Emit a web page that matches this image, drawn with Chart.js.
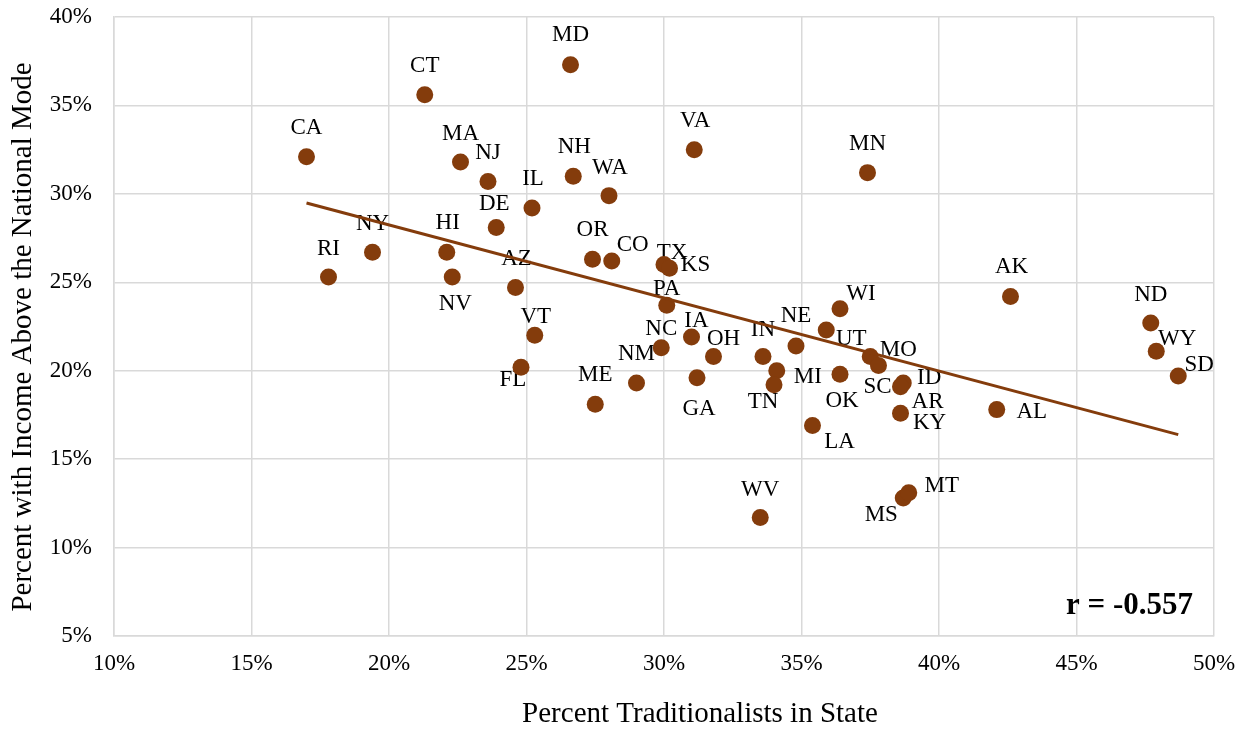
<!DOCTYPE html>
<html>
<head>
<meta charset="utf-8">
<script src="https://cdn.jsdelivr.net/npm/chart.js@4.4.1/dist/chart.umd.min.js"></script>
<style>
  body { margin: 0; background: #fff; }
  canvas { display: block; }
</style>
</head>
<body>
<canvas id="myChart" width="1242" height="732"></canvas>
<script>
const states = ['CA','CT','MD','MA','NJ','NH','WA','VA','IL','DE',
                'NY','HI','RI','NV','AZ','VT','OR','CO','TX','KS',
                'PA','NC','IA','OH','GA','NM','ME','FL','IN','MI',
                'TN','NE','UT','WI','OK','LA','MO','SC','ID','AR',
                'KY','AL','AK','ND','WY','SD','MN','WV','MS','MT'];
// percent traditionalists in state
const traditionalists = [17.0,21.3,26.6,22.6,23.6,26.7,28.0,31.1,25.2,23.9,
                         19.4,22.1,17.8,22.3,24.6,25.3,27.4,28.1,30.0,30.2,
                         30.1,29.9,31.0,31.8,31.2,29.0,27.5,24.8,33.6,34.1,
                         34.0,34.8,35.9,36.4,36.4,35.4,37.5,37.8,38.7,38.6,
                         38.6,42.1,42.6,47.7,47.9,48.7,37.4,33.5,38.7,38.9];
// percent with income above the national mode
const aboveMode = [32.1,35.6,37.3,31.8,30.7,31.0,29.9,32.5,29.2,28.1,
                   26.7,26.7,25.3,25.3,24.7,22.0,26.3,26.2,26.0,25.8,
                   23.7,21.3,21.9,20.8,19.6,19.3,18.1,20.2,20.8,20.0,
                   19.2,21.4,22.3,23.5,19.8,16.9,20.8,20.3,19.3,19.1,
                   17.6,17.8,24.2,22.7,21.1,19.7,31.2,11.7,12.8,13.1];
const xTicks = [10,15,20,25,30,35,40,45,50];
const yTicks = [5,10,15,20,25,30,35,40];
const xTitle = 'Percent Traditionalists in State';
const yTitle = 'Percent with Income Above the National Mode';
const rText = 'r = -0.557';

// where each state label sits relative to its dot (px)
const labelNudge = {
  CA:[0,-31], CT:[0,-31], MD:[0,-32], MA:[0,-30], NJ:[0,-31], NH:[1,-31],
  WA:[1,-30], VA:[1,-31], IL:[1,-31], DE:[-2,-26], NY:[0,-30], HI:[1,-31],
  RI:[0,-30], NV:[3,25], AZ:[1,-31], VT:[1,-20], OR:[0,-31], CO:[21,-18],
  TX:[8,-14], KS:[26,-5], PA:[0,-18], NC:[0,-21], IA:[5,-18], OH:[10,-20],
  GA:[2,29], NM:[0,-31], ME:[0,-31], FL:[-8,11], IN:[0,-29], MI:[31,4],
  TN:[-11,15], NE:[0,-32], UT:[25,7], WI:[21,-17], OK:[2,25], LA:[27,14],
  MO:[28,-9], SC:[-1,20], ID:[26,-7], AR:[27,13], KY:[29,8], AL:[35,0],
  AK:[1,-31], ND:[0,-30], WY:[21,-14], SD:[21,-13], MN:[0,-31], WV:[0,-30],
  MS:[-22,15], MT:[33,-9]
};

const brown = '#843c0c';
const serif = "'Liberation Serif', 'Times New Roman', serif";

const points = states.map((s, i) => ({ x: traditionalists[i], y: aboveMode[i] }));

// least squares trend line
const n = points.length;
const mx = traditionalists.reduce((a, b) => a + b, 0) / n;
const my = aboveMode.reduce((a, b) => a + b, 0) / n;
let sxy = 0, sxx = 0;
for (let i = 0; i < n; i++) {
  sxy += (traditionalists[i] - mx) * (aboveMode[i] - my);
  sxx += (traditionalists[i] - mx) ** 2;
}
const slope = sxy / sxx;
const icpt = my - slope * mx;
const xLo = Math.min(...traditionalists), xHi = Math.max(...traditionalists);
const trend = [{ x: xLo, y: icpt + slope * xLo }, { x: xHi, y: icpt + slope * xHi }];

const stateLabels = {
  id: 'stateLabels',
  beforeDatasetsDraw(chart) {
    const { ctx } = chart;
    const meta = chart.getDatasetMeta(1);
    ctx.save();
    ctx.font = '23px ' + serif;
    ctx.fillStyle = '#000';
    ctx.textAlign = 'center';
    ctx.textBaseline = 'middle';
    meta.data.forEach((el, i) => {
      const off = labelNudge[states[i]] || [0, -30];
      ctx.fillText(states[i], el.x + off[0], el.y + off[1] + 2);
    });
    ctx.restore();
  },
  afterDraw(chart) {
    const { ctx, chartArea } = chart;
    ctx.save();
    ctx.fillStyle = '#000';
    // r value box
    ctx.font = 'bold 31px ' + serif;
    ctx.textAlign = 'right';
    ctx.textBaseline = 'middle';
    ctx.fillText(rText, chartArea.right - 21, chartArea.bottom - 30);
    // axis titles, placed like the original (not centred on the plot)
    ctx.font = '29px ' + serif;
    ctx.textAlign = 'center';
    ctx.fillText(xTitle, 700, 714);
    ctx.translate(23, 337);
    ctx.rotate(-Math.PI / 2);
    ctx.fillText(yTitle, 0, 0);
    ctx.restore();
  }
};

new Chart(document.getElementById('myChart'), {
  type: 'scatter',
  data: {
    datasets: [{
      type: 'line',
      data: trend,
      borderColor: brown,
      borderWidth: 3,
      pointRadius: 0,
      fill: false,
      order: 0
    }, {
      data: points,
      backgroundColor: brown,
      borderColor: brown,
      pointRadius: 8.5,
      pointBorderWidth: 0,
      order: 1
    }]
  },
  options: {
    responsive: false,
    animation: false,
    layout: { padding: { left: 0, right: 28, top: 17, bottom: 0 } },
    plugins: { legend: { display: false }, tooltip: { enabled: false } },
    scales: {
      x: {
        type: 'linear',
        min: 10, max: 50,
        afterBuildTicks: s => { s.ticks = xTicks.map(v => ({ value: v })); },
        afterFit: s => { s.height = 96; s.paddingLeft = 0; s.paddingRight = 0; },
        grid: { color: '#d9d9d9', lineWidth: 1.5, drawTicks: false },
        border: { color: '#d9d9d9', width: 1.5 },
        ticks: { padding: 14, color: '#000', font: { family: serif, size: 23 }, callback: v => v + '%' }
      },
      y: {
        type: 'linear',
        min: 5, max: 40,
        afterBuildTicks: s => { s.ticks = yTicks.map(v => ({ value: v })); },
        afterFit: s => { s.width = 114; s.paddingTop = 0; s.paddingBottom = 0; },
        grid: { color: '#d9d9d9', lineWidth: 1.5, drawTicks: false },
        border: { color: '#d9d9d9', width: 1.5 },
        ticks: { padding: 22, color: '#000', font: { family: serif, size: 23 }, callback: v => v + '%' }
      }
    }
  },
  plugins: [stateLabels]
});
</script>
</body>
</html>
